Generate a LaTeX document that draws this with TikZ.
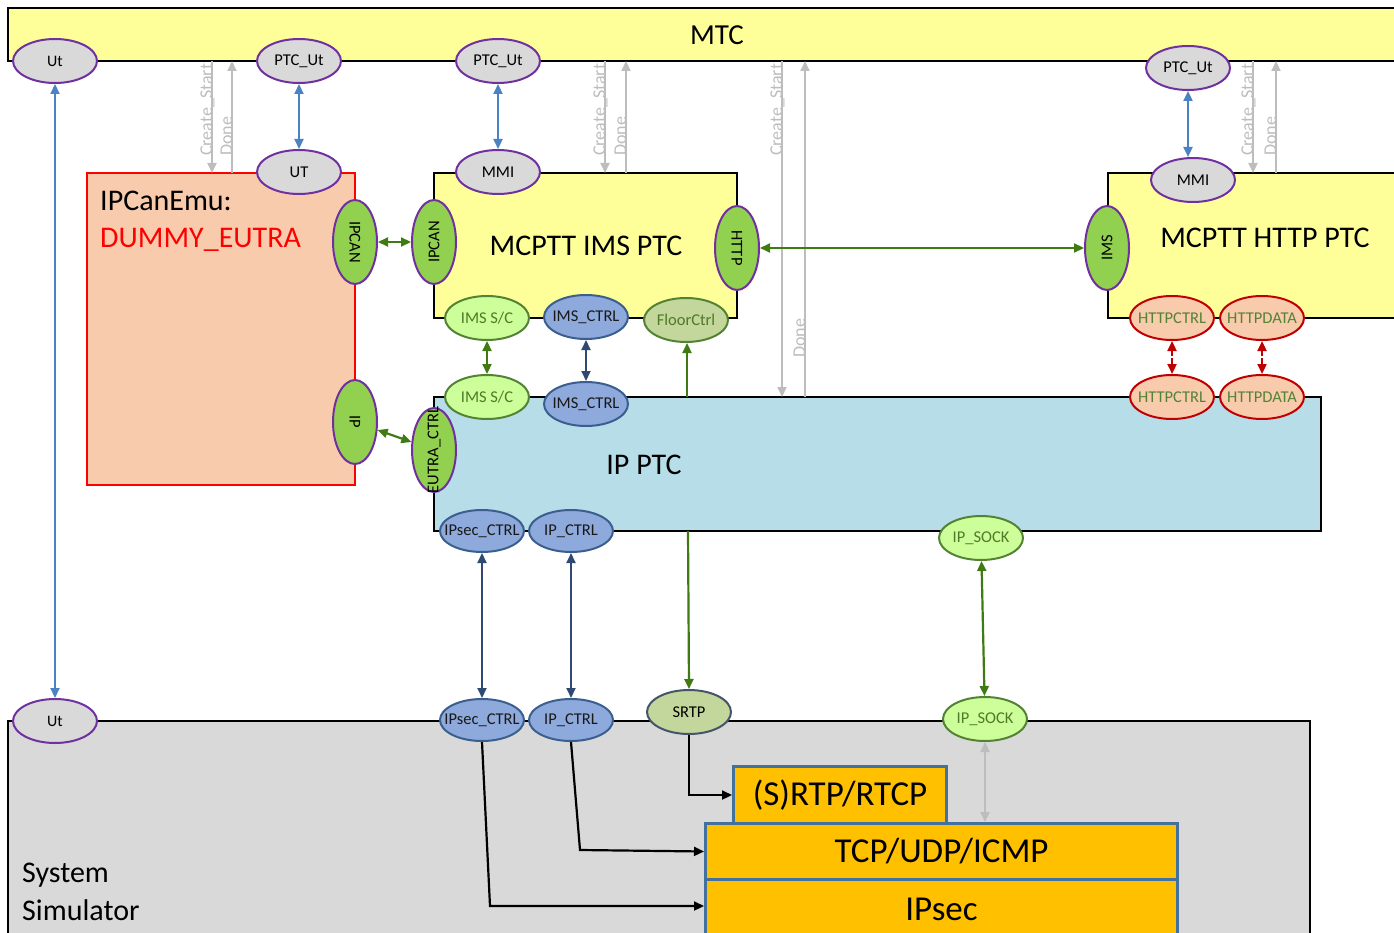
\documentclass[tikz,border=0pt]{standalone}
\usepackage{fontspec}
\setmainfont{Carlito}
\usetikzlibrary{shapes.geometric,arrows.meta}
\definecolor{mtcY}{HTML}{FFFF99}
\definecolor{gfill}{HTML}{D9D9D9}
\definecolor{purp}{HTML}{7030A0}
\definecolor{grnF}{HTML}{92D050}
\definecolor{lgF}{HTML}{CCFF99}
\definecolor{lgD}{HTML}{548235}
\definecolor{lgT}{HTML}{4F7A28}
\definecolor{flF}{HTML}{C3D69B}
\definecolor{bluF}{HTML}{8EA9DB}
\definecolor{bluD}{HTML}{3A5F8F}
\definecolor{peach}{HTML}{F8CBAD}
\definecolor{dred}{HTML}{C00000}
\definecolor{ipF}{HTML}{B7DEE8}
\definecolor{orng}{HTML}{FFC000}
\definecolor{oBord}{HTML}{41719C}
\definecolor{arG}{HTML}{3F7A12}
\definecolor{arN}{HTML}{2F4A72}
\definecolor{arB}{HTML}{4A82C4}
\definecolor{arGy}{HTML}{BDBDBD}
\definecolor{srtpD}{HTML}{44546A}
\newcommand{\et}[1]{\makebox[40pt][c]{#1}}
\tikzset{
  >={Triangle[length=10pt,width=9pt]},
  ell/.style={ellipse, draw, line width=2pt, minimum width=84pt, minimum height=44pt, inner sep=0pt, font=\fontsize{16.5}{19}\selectfont},
  greyE/.style={ell, fill=gfill, draw=purp},
  greenE/.style={ell, fill=grnF, draw=purp},
  lgE/.style={ell, fill=lgF, draw=lgD, text=lgT},
  flE/.style={ell, fill=flF, draw=lgD, text=lgT},
  bluE/.style={ell, fill=bluF, draw=bluD, text=black!90},
  httpE/.style={ell, fill=peach, draw=dred, text=lgD},
  srtpE/.style={ell, fill=flF, draw=srtpD},
  boxline/.style={line width=2pt, draw=black},
  title/.style={font=\fontsize{30}{36}\selectfont, inner sep=0pt},
  obox/.style={draw=oBord, line width=3pt, fill=orng, inner sep=0pt, font=\fontsize{35}{40}\selectfont},
  glbl/.style={text=arGy, font=\fontsize{18}{20}\selectfont, inner sep=0pt, rotate=90, anchor=base west},
  garr/.style={draw=arGy, line width=2pt},
  grA/.style={draw=arG, line width=2.2pt},
  nvA/.style={draw=arN, line width=2pt},
  blA/.style={draw=arB, line width=2.2pt},
  rdA/.style={draw=dred, line width=2.2pt, dash pattern=on 6pt off 2pt},
  bkA/.style={draw=black, line width=2.2pt},
}
\begin{document}
\begin{tikzpicture}[x=1pt,y=-1pt]
\useasboundingbox (0,0) rectangle (1394,933);
\clip (0,0) rectangle (1394,933);
% ---------- boxes ----------
\path[boxline, fill=mtcY] (8,8) rectangle (1410,61);
\node[font=\fontsize{29}{34}\selectfont] (mtc) at (717,35) {MTC};
\path[draw=red, line width=2.2pt, fill=peach] (87,173) rectangle (355,485);
\node[title, anchor=base west] (emu1) at (100,211) {IPCanEmu:};
\node[title, anchor=base west, text=red] (emu2) at (100,248) {DUMMY\_EUTRA};
\path[boxline, fill=mtcY] (434,173) rectangle (737,318);
\node[title] (imsptc) at (586,246) {MCPTT IMS PTC};
\path[boxline, fill=mtcY] (1108,173) rectangle (1410,318);
\node[title] (httpptc) at (1265,238) {MCPTT HTTP PTC};
\path[boxline, fill=ipF] (434,397) rectangle (1321,531);
\node[title] (ipptc) at (644,465) {IP PTC};
\path[boxline, fill=gfill] (8,721) rectangle (1310,945);
\node[title, anchor=base west] (ss1) at (22,882) {System};
\node[title, anchor=base west] (ss2) at (22,920) {Simulator};
\node[obox, minimum width=213pt, minimum height=57pt, anchor=north west] (rtp) at (732,765) {(S)RTP/RTCP};
\node[obox, minimum width=472pt, minimum height=56pt, anchor=north west] (tcp) at (704,822) {TCP/UDP/ICMP};
\node[obox, minimum width=472pt, minimum height=62pt, anchor=north west, text depth=0pt] (ipsecb) at (704,878) {\raisebox{3pt}{IPsec}};
% ---------- grey create/done arrows ----------
\foreach \xa/\xb/\yb/\yd [count=\i] in {212/232/173/156, 605/626/173/156, 782/805/397/358, 1253/1276/173/156}{
  \coordinate (cs\i t) at (\xa,61);
  \coordinate (cs\i b) at (\xa,\yb);
  \coordinate (dn\i t) at (\xb,61);
  \coordinate (dn\i b) at (\xb,\yb);
  \draw[garr,->] (cs\i t) -- (cs\i b);
  \draw[garr,->] (dn\i b) -- (dn\i t);
  \node[glbl] (csl\i) at (\xa,156) {Create\_Start};
  \node[glbl] (dnl\i) at (\xb,\yd) {Done};
}
% ---------- ellipses ----------
\node[greyE, font=\fontsize{16}{18}\selectfont] (ut1) at (55,61) {\et{Ut}};
\node[greyE] (ptcut1) at (299,61) {\et{PTC\_Ut}};
\node[greyE] (ptcut2) at (498,61) {\et{PTC\_Ut}};
\node[greyE] (ptcut3) at (1188,68) {\et{PTC\_Ut}};
\node[greyE] (utE) at (299,172) {\et{UT}};
\node[greyE] (mmi1) at (498,172) {\et{MMI}};
\node[greyE] (mmi2) at (1193,180) {\et{MMI}};
\node[greenE, rotate=-90] (ipcanL) at (355,242) {\et{IPCAN}};
\node[greenE, rotate=90] (ipcanR) at (434,242) {\et{IPCAN}};
\node[greenE, rotate=-90] (httpE) at (737,248) {\et{HTTP}};
\node[greenE, rotate=90] (imsE) at (1107,248) {\et{IMS}};
\node[greenE, rotate=-90] (ipE) at (355,422) {\et{IP}};
\node[greenE, rotate=90] (eutra) at (434,450) {\et{EUTRA\_CTRL}};
\node[lgE] (imssc1) at (487,318) {\et{IMS S/C}};
\node[bluE] (imsctrl1) at (586,317) {\et{IMS\_CTRL}};
\node[flE] (floor) at (686,320) {\et{FloorCtrl}};
\node[lgE] (imssc2) at (487,397) {\et{IMS S/C}};
\node[bluE] (imsctrl2) at (586,404) {\et{IMS\_CTRL}};
\node[httpE] (hctrl1) at (1172,318) {\et{HTTPCTRL}};
\node[httpE] (hdata1) at (1262,318) {\et{HTTPDATA}};
\node[httpE] (hctrl2) at (1172,397) {\et{HTTPCTRL}};
\node[httpE] (hdata2) at (1262,397) {\et{HTTPDATA}};
\node[bluE, minimum height=42pt] (ipsc1) at (482,531) {\et{IPsec\_CTRL}};
\node[bluE, minimum height=42pt] (ipc1) at (571,531) {\et{IP\_CTRL}};
\node[lgE] (sock1) at (981,538) {\et{IP\_SOCK}};
\node[greyE, font=\fontsize{16}{18}\selectfont] (ut2) at (55,721) {\et{Ut}};
\node[bluE, minimum height=42pt] (ipsc2) at (482,720) {\et{IPsec\_CTRL}};
\node[bluE, minimum height=42pt] (ipc2) at (571,720) {\et{IP\_CTRL}};
\node[srtpE] (srtp) at (689,712) {\et{SRTP}};
\node[lgE] (sock2) at (985,719) {\et{IP\_SOCK}};
% ---------- connectors ----------
\draw[blA,<->] (ut1) -- (ut2);
\draw[blA,<->] (ptcut1) -- (utE);
\draw[blA,<->] (ptcut2) -- (mmi1);
\draw[blA,<->] (ptcut3.south) -- (ptcut3.south |- mmi2.north);
\draw[grA,<->] (ipcanL) -- (ipcanR);
\draw[grA,<->] (httpE) -- (imsE);
\draw[grA,<->] (ipE) -- (eutra);
\draw[grA,<->] (imssc1) -- (imssc2);
\draw[nvA,<->] (imsctrl1) -- (imsctrl2);
\coordinate (ipfl) at (687,397);
\draw[grA,->] (ipfl) -- (floor.south -| ipfl);
\draw[rdA,<->] (hctrl1) -- (hctrl2);
\draw[rdA,<->] (hdata1) -- (hdata2);
\draw[nvA,<->] (ipsc1) -- (ipsc2);
\draw[nvA,<->] (ipc1) -- (ipc2);
\coordinate (ipsr) at (688,531);
\draw[grA,->] (ipsr) -- (srtp.north);
\draw[grA,<->] (sock1) -- (sock2);
\draw[bkA,->] (srtp.south) -- (srtp.south |- rtp.west) -- (rtp.west);
\coordinate (k2) at (580,850);
\draw[bkA,->] (ipc2.south) -- (k2) -- (tcp.west);
\coordinate (k3) at (490,906);
\draw[bkA,->] (ipsc2.south) -- (k3) -- (k3 -| ipsecb.west);
\draw[garr,<->] (sock2.south) -- (sock2.south |- tcp.north);
\end{tikzpicture}
\end{document}
